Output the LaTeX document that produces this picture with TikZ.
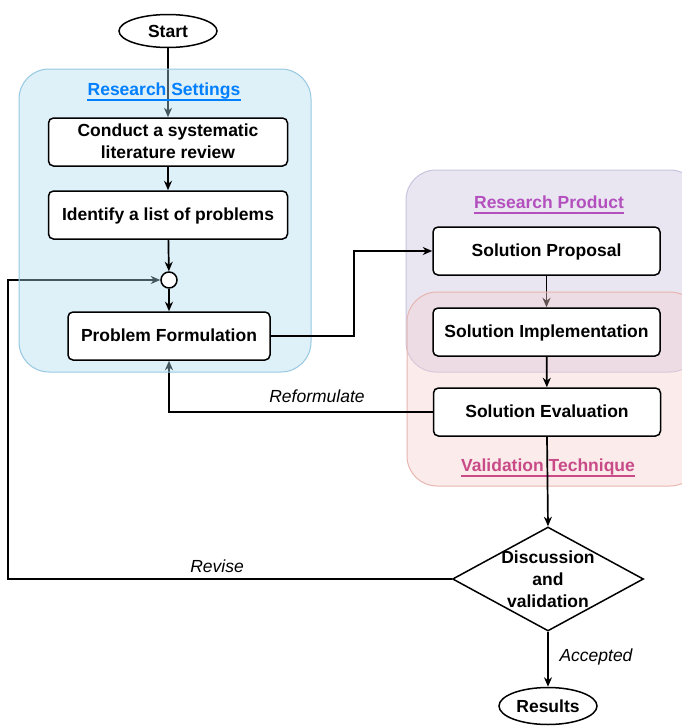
\documentclass[tikz,border=0pt]{standalone}
\usepackage{fontspec}
\setmainfont{Liberation Sans}
\usepackage{xcolor}
\usetikzlibrary{arrows.meta, shapes.geometric, positioning}

\definecolor{settingsfill}{RGB}{172,217,237}
\definecolor{settingsline}{RGB}{150,200,225}
\definecolor{settingstext}{RGB}{0,127,255}
\definecolor{productfill}{RGB}{233,230,242}
\definecolor{productline}{RGB}{200,195,222}
\definecolor{producttext}{RGB}{180,80,190}
\definecolor{validfill}{RGB}{245,205,205}
\definecolor{validline}{RGB}{232,182,176}
\definecolor{validtext}{RGB}{200,75,135}

\newcommand{\flowfont}{\fontsize{17.5}{22}\selectfont}

\pgfdeclarelayer{front}
\pgfsetlayers{main,front}

\tikzset{
  procbox/.style={draw, line width=1.5pt, fill=white, rounded corners=5pt, align=center,
    font=\flowfont\bfseries, minimum width=#1, minimum height=48, inner sep=0pt,
    text depth=1pt},
  terminal/.style={ellipse, draw, line width=1.5pt, fill=white, font=\flowfont\bfseries,
    minimum width=98, minimum height=33, inner sep=0pt},
  junction/.style={circle, draw, line width=1.5pt, fill=white, minimum size=16, inner sep=0pt},
  decision/.style={diamond, draw, line width=1.5pt, fill=white, minimum width=191,
    minimum height=104, inner sep=0pt, aspect=1.84},
  decisiontext/.style={align=center, font=\flowfont\bfseries, inner sep=0pt},
  grouptitle/.style={anchor=base, font=\flowfont\bfseries, inner sep=0pt},
  edgelabel/.style={anchor=base, font=\flowfont\itshape, inner sep=0pt},
  group/.style={line width=1pt, rounded corners=30},
  flow/.style={-{Stealth[length=9.5pt,width=8pt,inset=3pt]}, line width=1.7pt, black}
}

\begin{document}
\begin{tikzpicture}[x=1pt, y=-1pt]
\useasboundingbox (0,0) rectangle (681,726);

\begin{pgfonlayer}{front}
% --- steps ---
\node[terminal] (start) at (168,31) {Start};
\node[procbox=239] (lit) at (168,142) {Conduct a systematic\\literature review};
\node[procbox=239] (probs) at (168,215) {Identify a list of problems};
\node[junction] (join) at (169,280) {};
\node[procbox=202] (pf) at (169,336) {Problem Formulation};
\node[procbox=227] (prop) at (546.5,251) {Solution Proposal};
\node[procbox=227] (impl) at (546.5,332) {Solution Implementation};
\node[procbox=227] (eval) at (547,412) {Solution Evaluation};
\node[decision] (dv) at (548,579) {};
\node[decisiontext] (dvtext) at (dv) {Discussion\\and\\validation};
\node[terminal, minimum height=37] (res) at (548,706) {Results};
\end{pgfonlayer}

% --- groups, with the edges that run beneath them ---
\filldraw[group, fill=productfill, draw=productline] (406,170) rectangle (700,372);
\draw[flow] (prop) -- (impl);
\filldraw[group, fill=validfill, fill opacity=0.4, draw=validline] (407,292) rectangle (700,486);
\coordinate (revx) at (8,280);
\draw[flow] (start) -- (lit);
\draw[flow] (dv.west) -| (revx) -- (join.west);
\draw[flow] (eval.west) -| (pf.south);
\filldraw[group, fill=settingsfill, fill opacity=0.4, draw=settingsline] (19,69) rectangle (311,372);

\begin{pgfonlayer}{front}
\node[grouptitle, settingstext] (settitle) at (164,95) {Research Settings};
\node[grouptitle, producttext] (prodtitle) at (549,208) {Research Product};
\node[grouptitle, validtext] (valtitle) at (548,471) {Validation Technique};
\foreach \t/\c in {settitle/settingstext, prodtitle/producttext, valtitle/validtext}
  \draw[\c, line width=1.4pt] ([yshift=-5pt]\t.base west) -- ([yshift=-5pt]\t.base east);

% --- edges on top ---
\draw[flow] (lit) -- (probs);
\draw[flow] (probs) -- (join);
\draw[flow] (join) -- (pf);
\draw[flow] (pf.east) -- ++(83,0) |- (prop.west);
\draw[flow] (impl) -- (eval);
\draw[flow] (eval.south) -- (dv.north);
\draw[flow] (dv.south) -- (res.north);

% --- edge labels ---
\node[edgelabel] (reform) at (317,402) {Reformulate};
\node[edgelabel] (revise) at (217,572) {Revise};
\node[edgelabel] (accept) at (596,661) {Accepted};
\end{pgfonlayer}
\end{tikzpicture}
\end{document}
